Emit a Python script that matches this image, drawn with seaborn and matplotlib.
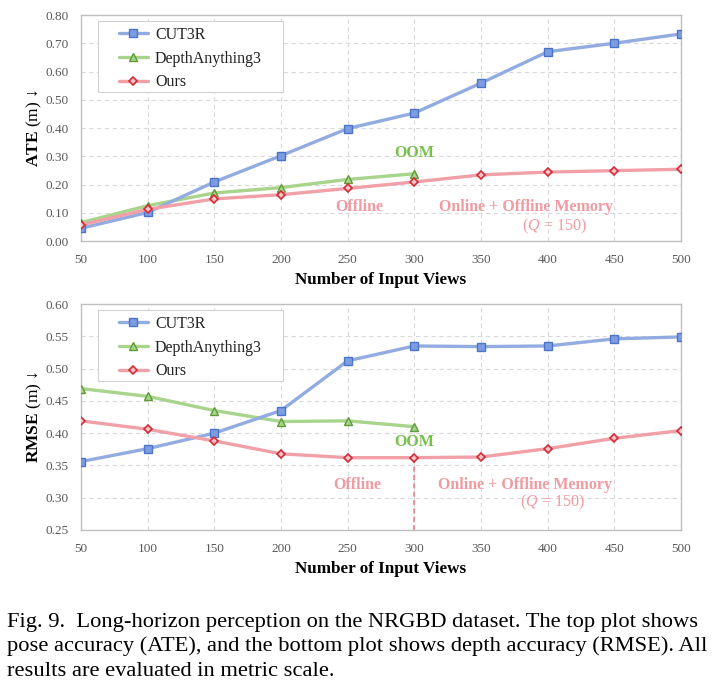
import matplotlib
matplotlib.use("Agg")
import matplotlib.pyplot as plt
import matplotlib.patches as mpatches
import seaborn as sns

views = [50, 100, 150, 200, 250, 300, 350, 400, 450, 500]

ate_cut3r = [0.045, 0.101, 0.209, 0.302, 0.398, 0.453, 0.559, 0.670, 0.700, 0.733]
ate_da3 = [0.065, 0.125, 0.170, 0.189, 0.218, 0.238]
ate_ours = [0.057, 0.112, 0.149, 0.164, 0.186, 0.209, 0.234, 0.244, 0.249, 0.254]

rmse_cut3r = [0.356, 0.376, 0.400, 0.435, 0.512, 0.535, 0.534, 0.535, 0.546, 0.549]
rmse_da3 = [0.469, 0.457, 0.435, 0.418, 0.419, 0.410]
rmse_ours = [0.419, 0.406, 0.388, 0.368, 0.362, 0.362, 0.363, 0.376, 0.392, 0.404]

ate_ticks = [0.0, 0.1, 0.2, 0.3, 0.4, 0.5, 0.6, 0.7, 0.8]
rmse_ticks = [0.25, 0.30, 0.35, 0.40, 0.45, 0.50, 0.55, 0.60]

caption = [
    "Fig. 9.  Long-horizon perception on the NRGBD dataset. The top plot shows",
    "pose accuracy (ATE), and the bottom plot shows depth accuracy (RMSE). All",
    "results are evaluated in metric scale.",
]

sns.set_style("white")
plt.rcParams["font.family"] = ["Liberation Serif", "DejaVu Serif"]
plt.rcParams["mathtext.fontset"] = "custom"
plt.rcParams["mathtext.rm"] = "Liberation Serif"
plt.rcParams["mathtext.it"] = "Liberation Serif:italic"
plt.rcParams["mathtext.bf"] = "Liberation Serif:bold"

blue_line, blue_face, blue_edge = "#92abe0", "#7d9de0", "#4a74c8"
green_line, green_face, green_edge = "#a8d48c", "#a8d48c", "#5e9a38"
red_line, red_face, red_edge = "#f2a0a8", "#f7c4c8", "#d42a35"
grey_text = "#595959"

fig = plt.figure(figsize=(7.18, 6.88), dpi=100)
ax1 = fig.add_axes([81 / 718, 1 - 241 / 688, 600 / 718, 226 / 688])
ax2 = fig.add_axes([81 / 718, 1 - 530 / 688, 600 / 718, 226 / 688])


def draw(ax, cut3r, da3, ours, ticks, ylab):
    sns.lineplot(x=views, y=cut3r, ax=ax, color=blue_line, lw=2.4, marker="s",
                 markersize=5.3, markerfacecolor=blue_face, markeredgecolor=blue_edge,
                 markeredgewidth=1.0, label="CUT3R", zorder=4)
    sns.lineplot(x=views[:len(da3)], y=da3, ax=ax, color=green_line, lw=2.4, marker="^",
                 markersize=5.6, markerfacecolor=green_face, markeredgecolor=green_edge,
                 markeredgewidth=1.0, label="DepthAnything3", zorder=3)
    sns.lineplot(x=views, y=ours, ax=ax, color=red_line, lw=2.4, marker="D",
                 markersize=4.2, markerfacecolor=red_face, markeredgecolor=red_edge,
                 markeredgewidth=1.2, label="Ours", zorder=5)
    ax.set_xlim(views[0], views[-1])
    ax.set_ylim(ticks[0], ticks[-1])
    ax.set_xticks(views)
    ax.set_yticks(ticks)
    ax.set_yticklabels(["%.2f" % t for t in ticks])
    ax.grid(True, ls=(0, (4, 3)), color="#d9d9d9", lw=0.8)
    for s in ax.spines.values():
        s.set_color("#bfbfbf")
        s.set_linewidth(1.0)
    ax.tick_params(axis="both", length=0, labelsize=9.5, labelcolor=grey_text)
    ax.tick_params(axis="y", pad=9)
    ax.tick_params(axis="x", pad=9)
    ax.set_xlabel("Number of Input Views", fontsize=12.3, fontweight="bold",
                  color="black", labelpad=5)
    ax.set_ylabel(ylab, fontsize=12.5, color="black", labelpad=1)
    leg = ax.legend(loc="upper left", bbox_to_anchor=(0.0633, 0.949), fontsize=11.5,
                    frameon=False, handlelength=1.8, labelspacing=0.5, borderpad=0,
                    handletextpad=0.45, borderaxespad=0)
    for t in leg.get_texts():
        t.set_color("#222222")
    box = mpatches.Rectangle((0.0283, 0.6593), 0.3084, 0.3142, transform=ax.transAxes,
                             facecolor="white", edgecolor="#d0d0d0", lw=0.8, zorder=6)
    ax.add_patch(box)
    leg.set_zorder(7)


draw(ax1, ate_cut3r, ate_da3, ate_ours, ate_ticks, r"$\mathbf{ATE}$ (m) ↓")
draw(ax2, rmse_cut3r, rmse_da3, rmse_ours, rmse_ticks, r"$\mathbf{RMSE}$ (m) ↓")

oom_green = "#78c04a"
label_red = "#f09aa2"
# top annotations
ax1.text(300, 0.311, "OOM", color=oom_green, fontsize=11.5, fontweight="bold",
         ha="center", va="center")
ax1.text(259, 0.120, "Offline", color=label_red, fontsize=11.5, fontweight="bold",
         ha="center", va="center")
ax1.text(384, 0.120, "Online + Offline Memory", color=label_red, fontsize=11.5,
         fontweight="bold", ha="center", va="center")
ax1.text(405, 0.053, r"$(Q\,=\,150)$", color=label_red, fontsize=11.5,
         ha="center", va="center")
# bottom annotations
ax2.text(300, 0.387, "OOM", color=oom_green, fontsize=11.5, fontweight="bold",
         ha="center", va="center")
ax2.text(257, 0.320, "Offline", color=label_red, fontsize=11.5, fontweight="bold",
         ha="center", va="center")
ax2.text(383, 0.320, "Online + Offline Memory", color=label_red, fontsize=11.5,
         fontweight="bold", ha="center", va="center")
ax2.text(404, 0.292, r"$(Q\,=\,150)$", color=label_red, fontsize=11.5,
         ha="center", va="center")
ax2.plot([300, 300], [rmse_ticks[0], rmse_ours[5]], color="#ec7f8a",
         ls=(0, (3, 2)), lw=1.2, zorder=2)

for i, line in enumerate(caption):
    fig.text(7 / 718, 1 - (627 + i * 24.5) / 688, line, fontsize=16.2,
             ha="left", va="baseline", color="black")

fig.savefig("out.png", dpi=100)
